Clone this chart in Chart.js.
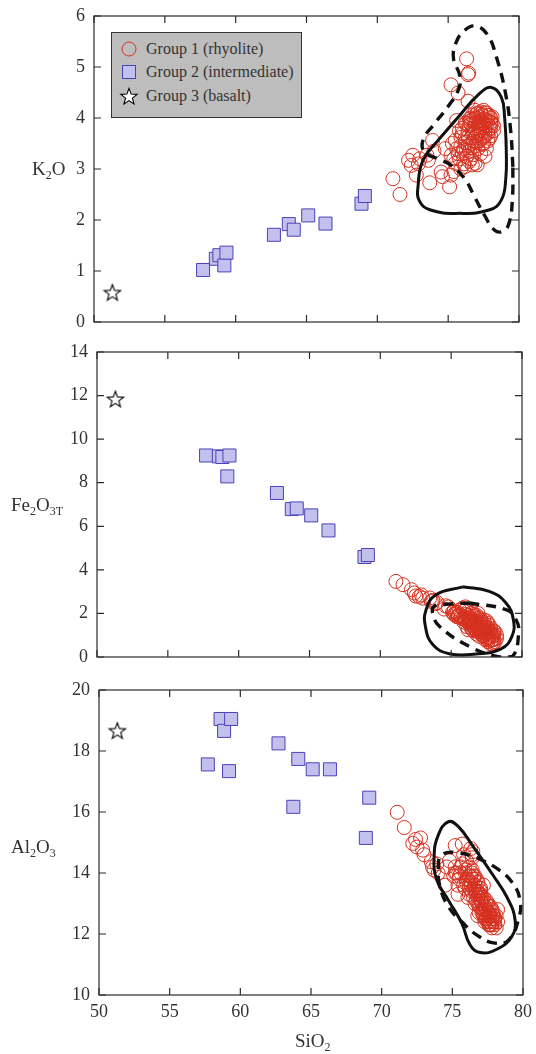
<!DOCTYPE html>
<html>
<head>
<meta charset="utf-8">
<script src="https://cdn.jsdelivr.net/npm/chart.js@4.4.1/dist/chart.umd.min.js"></script>
<style>
  body { margin: 0; background: #fff; width: 536px; height: 1054px; position: relative; overflow: hidden; font-family: "Liberation Serif", serif; color: #333; }
  canvas { position: absolute; left: 0; }
  .lab { position: absolute; font-size: 19px; line-height: 19px; white-space: nowrap; color: #333; }
  .lab sub { font-size: 12px; line-height: 0; vertical-align: -4px; }
  #legend { position: absolute; left: 111px; top: 32px; width: 189px; height: 84px; background: #bdbdbd; border: 1.5px solid #333; }
  .row { position: absolute; left: 0; height: 18px; font-size: 16px; line-height: 18px; white-space: nowrap; color: #333; }
  .row svg { position: absolute; left: 7px; top: 0; }
  .row span { position: absolute; left: 34px; top: 0; }
</style>
</head>
<body>
<canvas id="c1" width="536" height="336" style="top:0"></canvas>
<canvas id="c2" width="536" height="336" style="top:336px"></canvas>
<canvas id="c3" width="536" height="382" style="top:672px"></canvas>

<div class="lab" style="left:32px;top:159px">K<sub>2</sub>O</div>
<div class="lab" style="left:11px;top:495px">Fe<sub>2</sub>O<sub>3T</sub></div>
<div class="lab" style="left:11px;top:837px">Al<sub>2</sub>O<sub>3</sub></div>
<div class="lab" style="left:295px;top:1031px">SiO<sub>2</sub></div>

<div id="legend">
  <div class="row" style="top:7px">
    <svg width="20" height="18"><circle cx="10" cy="9" r="7" fill="none" stroke="#d6301f" stroke-width="1"/></svg>
    <span>Group 1 (rhyolite)</span>
  </div>
  <div class="row" style="top:30px">
    <svg width="20" height="18"><rect x="3.5" y="2.5" width="13" height="13" fill="#c4c0ee" stroke="#4b42b8" stroke-width="1"/></svg>
    <span>Group 2 (intermediate)</span>
  </div>
  <div class="row" style="top:54px">
    <svg width="20" height="18"><polygon id="legStar" fill="#fff" stroke="#000" stroke-width="1.1"/></svg>
    <span>Group 3 (basalt)</span>
  </div>
</div>

<script>
// Group 1 (rhyolite) samples
const g1SiO2 = [71.1, 71.6, 72.2, 72.4, 72.5, 72.75, 73.0, 72.9, 73.5, 73.6, 73.7, 73.9, 74.5, 74.6, 75.1, 75.2,
  75.2, 75.7, 76.3, 76.45, 76.4, 76.4, 77.7, 76.9, 76.7, 77.05, 76.3, 75.5, 75.8, 75.2, 75.3, 75.5, 76.0, 77.2,
  76.2, 76.4, 76.5, 76.6, 76.7, 76.8, 76.9, 77.0, 77.1, 77.2, 77.3, 77.4, 77.5, 77.6, 77.7, 77.8, 77.9, 78.0,
  78.1, 77.6, 77.4, 77.2, 77.0, 76.8, 76.6, 76.4, 76.1, 75.9, 75.7, 76.3, 76.6, 77.3, 77.5, 77.8, 78.0, 77.9,
  77.6, 77.3, 77.0, 76.7, 76.5, 76.2, 76.0, 75.8, 77.1, 77.4, 77.7, 77.9, 78.2, 76.9, 77.2, 76.5, 75.6, 74.8,
  74.0, 75.4, 76.1,
  76.6, 76.8, 77.0, 77.2, 77.4, 77.6, 77.8, 78.0, 78.2, 77.5, 77.1, 76.8, 77.3, 77.6, 77.9, 78.1, 76.9, 77.5,
  77.0, 76.4, 76.7, 76.2, 75.9, 76.5, 76.0, 75.6, 75.4, 77.8, 78.0, 77.7, 77.3, 76.9, 76.6, 76.3, 77.4, 77.1,
  76.2, 75.9, 77.6, 76.8];
const g1K2O = [2.81, 2.50, 3.17, 3.07, 3.27, 2.88, 3.20, 3.10, 3.27, 3.17, 2.73, 3.56, 2.94, 2.85, 2.65, 2.88,
  4.65, 4.49, 5.16, 4.88, 4.85, 4.33, 3.40, 3.11, 3.08, 3.08, 3.37, 3.11, 3.20, 3.27, 3.50, 3.56, 3.69, 4.02,
  3.60, 3.75, 3.85, 3.95, 3.70, 3.80, 3.90, 4.00, 3.85, 3.75, 3.95, 4.05, 3.90, 3.80, 4.10, 3.95, 3.85, 4.00,
  3.90, 3.65, 3.60, 3.55, 3.65, 3.55, 3.50, 3.45, 3.40, 3.45, 3.30, 3.25, 3.20, 3.30, 3.50, 3.70, 3.80, 4.05,
  4.10, 4.12, 4.08, 4.05, 3.98, 3.90, 3.80, 3.75, 3.70, 3.80, 3.85, 3.60, 3.75, 3.45, 3.90, 3.35, 3.95, 3.40,
  3.35, 2.95, 3.10,
  3.88, 3.98, 3.92, 3.82, 3.92, 3.98, 4.05, 3.92, 3.85, 4.15, 4.10, 3.72, 3.68, 3.72, 3.78, 4.02, 3.62, 3.62,
  3.52, 3.62, 3.42, 3.52, 3.62, 3.15, 3.30, 3.40, 3.20, 3.55, 3.65, 3.95, 4.08, 4.15, 4.00, 3.90, 3.48, 3.40,
  3.05, 3.00, 3.25, 3.28];
const g1Fe2O3 = [3.47, 3.32, 3.09, 2.94, 2.80, 2.78, 2.70, 2.85, 2.71, 2.55, 2.60, 2.45, 2.20, 2.35, 2.05, 1.95,
  2.10, 1.90, 1.70, 1.75, 1.60, 1.65, 1.15, 1.30, 1.45, 1.35, 1.60, 1.85, 1.75, 2.10, 2.00, 1.90, 1.80, 1.30,
  1.90, 1.35, 1.75, 1.20, 1.85, 1.05, 1.60, 0.95, 1.70, 1.00, 1.45, 0.80, 1.35, 0.70, 1.20, 0.75, 1.10, 0.65,
  1.15, 1.55, 1.20, 1.60, 1.40, 1.75, 1.55, 2.00, 1.65, 2.10, 1.80, 1.50, 1.95, 0.95, 0.85, 1.30, 1.00, 0.60,
  1.10, 1.30, 1.80, 1.30, 2.05, 1.25, 1.95, 2.25, 1.15, 1.50, 0.90, 0.80, 1.00, 1.25, 1.35, 1.45, 2.15, 2.30,
  2.50, 1.85, 1.40,
  1.65, 1.40, 1.55, 1.15, 1.05, 1.30, 1.05, 0.80, 0.85, 1.65, 1.25, 1.90, 1.70, 0.90, 0.95, 0.70, 1.45, 1.10,
  1.10, 1.70, 1.50, 1.75, 1.85, 1.25, 2.30, 1.95, 2.05, 0.60, 1.20, 1.45, 1.20, 2.00, 1.35, 1.80, 1.35, 1.50,
  2.10, 1.60, 0.80, 1.20];
const g1Al2O3 = [15.99, 15.49, 14.97, 15.10, 14.85, 15.15, 14.60, 14.75, 14.37, 14.20, 14.10, 14.30, 13.60, 14.20, 13.90, 14.00,
  14.90, 14.95, 14.80, 14.70, 14.60, 14.50, 12.90, 13.30, 13.40, 13.10, 13.70, 13.90, 13.60, 14.20, 14.00, 13.80, 13.70, 12.80,
  13.50, 13.40, 13.20, 13.60, 13.30, 13.00, 12.90, 13.10, 12.70, 12.60, 12.50, 12.80, 12.40, 12.60, 12.30, 12.50, 12.40, 12.30,
  12.60, 12.90, 13.00, 13.20, 13.50, 13.70, 13.90, 14.00, 13.80, 14.10, 14.30, 13.60, 13.40, 12.80, 12.70, 12.20, 12.50, 12.70,
  12.30, 12.90, 13.30, 13.10, 13.80, 14.20, 14.40, 14.60, 13.00, 12.50, 12.40, 12.60, 12.80, 13.30, 13.60, 13.90, 14.00, 14.40,
  14.00, 13.30, 13.20,
  13.00, 13.20, 12.90, 12.70, 12.60, 12.40, 12.30, 12.50, 12.40, 12.50, 12.80, 13.40, 12.90, 12.70, 12.60, 12.20, 13.50, 13.00,
  13.40, 14.10, 13.80, 13.90, 14.00, 13.50, 13.80, 14.20, 13.60, 12.80, 12.40, 12.60, 12.40, 12.70, 13.60, 13.90, 13.10, 13.20,
  13.30, 13.50, 12.30, 12.60];

// Group 2 (intermediate) samples
const g2SiO2 = [57.7, 58.6, 58.85, 59.2, 59.35, 62.7, 63.75, 64.1, 65.12, 66.34, 68.88, 69.12];
const g2K2O = [1.02, 1.24, 1.31, 1.11, 1.36, 1.71, 1.92, 1.81, 2.09, 1.93, 2.32, 2.47];
const g2Fe2O3 = [9.25, 9.21, 9.18, 8.29, 9.25, 7.53, 6.79, 6.82, 6.50, 5.81, 4.59, 4.68];
const g2Al2O3 = [17.56, 19.05, 18.66, 17.34, 19.05, 18.25, 16.17, 17.74, 17.40, 17.40, 15.15, 16.47];

// Group 3 (basalt) sample
const g3SiO2 = [51.3];
const g3K2O = [0.58];
const g3Fe2O3 = [11.84];
const g3Al2O3 = [18.67];

// field outlines [SiO2, oxide]
const k2oSolid = [[74.4, 3.60], [75.81, 4.05], [77.1, 4.45], [78.04, 4.60], [78.75, 4.41], [78.98, 4.02], [79.1, 3.37],
  [79.06, 2.78], [78.75, 2.39], [77.93, 2.20], [75.81, 2.13], [73.7, 2.20], [72.94, 2.39], [72.87, 2.65], [73.22, 3.17], [74.4, 3.60]];
const k2oDashed = [[79.57, 3.04], [79.41, 3.76], [79.05, 4.48], [78.4, 5.20], [77.8, 5.62], [76.99, 5.80], [76.16, 5.72],
  [75.53, 5.46], [75.38, 5.16], [75.81, 4.84], [75.76, 4.58], [74.98, 4.22], [74.04, 3.89], [73.22, 3.56], [73.34, 3.33],
  [74.28, 3.20], [75.22, 3.07], [76.16, 2.81], [76.87, 2.45], [77.57, 2.09], [78.28, 1.80], [78.86, 1.78], [79.29, 1.93],
  [79.53, 2.39], [79.57, 3.04]];
const feSolid = [[75.81, 3.22], [77.69, 3.01], [78.87, 2.48], [79.39, 1.71], [79.29, 0.95], [78.52, 0.37], [76.76, 0.14],
  [74.87, 0.15], [73.7, 0.57], [73.18, 1.41], [73.23, 2.17], [73.93, 2.86], [75.81, 3.22]];
const feDashed = [[76.28, 2.48], [78.87, 2.17], [79.58, 1.71], [79.76, 1.10], [79.34, 0.03], [78.4, 0.0], [76.28, 0.49],
  [74.17, 1.41], [73.7, 2.0], [73.8, 2.33], [74.64, 2.42], [76.28, 2.48]];
const alSolid = [[77.79, 13.99], [78.85, 13.22], [79.44, 12.46], [79.2, 11.91], [78.15, 11.5], [76.96, 11.39], [76.26, 11.64],
  [75.67, 12.35], [74.72, 13.11], [73.9, 13.77], [73.71, 14.53], [74.01, 15.25], [74.72, 15.68], [75.43, 15.52],
  [76.49, 14.86], [77.79, 13.99]];
const alDashed = [[76.73, 14.51], [78.15, 14.15], [79.2, 13.71], [79.79, 13.11], [79.67, 12.46], [78.97, 11.8], [78.03, 11.7],
  [76.85, 11.93], [75.67, 12.4], [74.72, 12.9], [74.13, 13.55], [74.01, 14.2], [74.25, 14.59], [75.31, 14.67], [76.73, 14.51]];

const xTicks = [50, 55, 60, 65, 70, 75, 80];

const red = '#d6301f';
const sqFill = '#c4c0ee';
const sqLine = '#4b42b8';
const textCol = '#333';

Chart.defaults.font.family = "'Liberation Serif', serif";
Chart.defaults.color = textCol;

// open star marker
function starPath(cx, cy, ro, ri) {
  const pts = [];
  for (let i = 0; i < 10; i++) {
    const r = i % 2 ? ri : ro;
    const a = -Math.PI / 2 + i * Math.PI / 5;
    pts.push([cx + r * Math.cos(a), cy + r * Math.sin(a)]);
  }
  return pts;
}
const starImg = document.createElement('canvas');
starImg.width = 20; starImg.height = 20;
(function () {
  const c = starImg.getContext('2d');
  c.beginPath();
  starPath(10, 10.8, 8.6, 3.6).forEach((p, i) => i ? c.lineTo(p[0], p[1]) : c.moveTo(p[0], p[1]));
  c.closePath();
  c.fillStyle = '#fff'; c.fill();
  c.strokeStyle = '#000'; c.lineWidth = 1.1; c.stroke();
})();
document.getElementById('legStar').setAttribute('points',
  starPath(10, 10, 8.6, 3.6).map(p => p.join(',')).join(' '));

const pts = (xs, ys) => xs.map((x, i) => ({ x, y: ys[i] }));
const outline = arr => arr.map(p => ({ x: p[0], y: p[1] }));

const framePlugin = {
  id: 'frame',
  afterDatasetsDraw(chart) {
    const { ctx, chartArea: a, scales: { x, y } } = chart;
    ctx.save();
    ctx.strokeStyle = '#2b2b2b';
    ctx.lineWidth = 1.2;
    ctx.strokeRect(a.left, a.top, a.right - a.left, a.bottom - a.top);
    ctx.beginPath();
    x.ticks.forEach(t => {
      const px = x.getPixelForValue(t.value);
      ctx.moveTo(px, a.bottom); ctx.lineTo(px, a.bottom - 7);
      ctx.moveTo(px, a.top); ctx.lineTo(px, a.top + 7);
    });
    y.ticks.forEach(t => {
      const py = y.getPixelForValue(t.value);
      ctx.moveTo(a.left, py); ctx.lineTo(a.left + 7, py);
      ctx.moveTo(a.right, py); ctx.lineTo(a.right - 7, py);
    });
    ctx.stroke();
    ctx.restore();
  }
};

function makePanel(id, cfg) {
  const font = { family: "'Liberation Serif', serif", size: 18 };
  return new Chart(document.getElementById(id), {
    type: 'scatter',
    data: {
      datasets: [
        { data: outline(cfg.solid), showLine: true, pointRadius: 0, borderColor: '#111', borderWidth: 3, tension: 0.45, order: 0 },
        { data: outline(cfg.dashed), showLine: true, pointRadius: 0, borderColor: '#111', borderWidth: 3.4, borderDash: [10, 7], tension: 0.45, order: 0 },
        { label: 'Group 1 (rhyolite)', data: pts(g1SiO2, cfg.g1), pointStyle: 'circle', pointRadius: 7, borderWidth: 1, borderColor: red, backgroundColor: 'rgba(0,0,0,0)', order: 1 },
        { label: 'Group 2 (intermediate)', data: pts(g2SiO2, cfg.g2), pointStyle: 'rect', pointRadius: 9.2, borderWidth: 1, borderColor: sqLine, backgroundColor: sqFill, order: 2 },
        { label: 'Group 3 (basalt)', data: pts(g3SiO2, cfg.g3), pointStyle: starImg, pointRadius: 10, order: 3 }
      ]
    },
    options: {
      responsive: false,
      animation: false,
      events: [],
      layout: { padding: { top: cfg.top, right: cfg.right, left: 0, bottom: 0 } },
      plugins: { legend: { display: false }, tooltip: { enabled: false } },
      scales: {
        x: {
          type: 'linear', min: 50, max: 80,
          afterBuildTicks: s => { s.ticks = xTicks.map(v => ({ value: v })); },
          ticks: { display: cfg.showX, font, color: textCol, padding: 0, maxRotation: 0 },
          grid: { display: false, drawTicks: true, tickLength: 6 },
          border: { display: false },
          afterFit: s => { s.height = cfg.xh; }
        },
        y: {
          min: cfg.yTicks[0], max: cfg.yTicks[cfg.yTicks.length - 1],
          afterBuildTicks: s => { s.ticks = cfg.yTicks.map(v => ({ value: v })); },
          ticks: { font, color: textCol, padding: 0 },
          grid: { display: false, drawTicks: true, tickLength: 9 },
          border: { display: false },
          afterFit: s => { s.width = cfg.yw; }
        }
      }
    },
    plugins: [framePlugin]
  });
}

makePanel('c1', { g1: g1K2O, g2: g2K2O, g3: g3K2O, solid: k2oSolid, dashed: k2oDashed,
  yTicks: [0, 1, 2, 3, 4, 5, 6], top: 16, right: 17, yw: 94, xh: 14, showX: false });
makePanel('c2', { g1: g1Fe2O3, g2: g2Fe2O3, g3: g3Fe2O3, solid: feSolid, dashed: feDashed,
  yTicks: [0, 2, 4, 6, 8, 10, 12, 14], top: 16, right: 14, yw: 97, xh: 15, showX: false });
makePanel('c3', { g1: g1Al2O3, g2: g2Al2O3, g3: g3Al2O3, solid: alSolid, dashed: alDashed,
  yTicks: [10, 12, 14, 16, 18, 20], top: 18, right: 13, yw: 99, xh: 59, showX: true });
</script>
</body>
</html>
